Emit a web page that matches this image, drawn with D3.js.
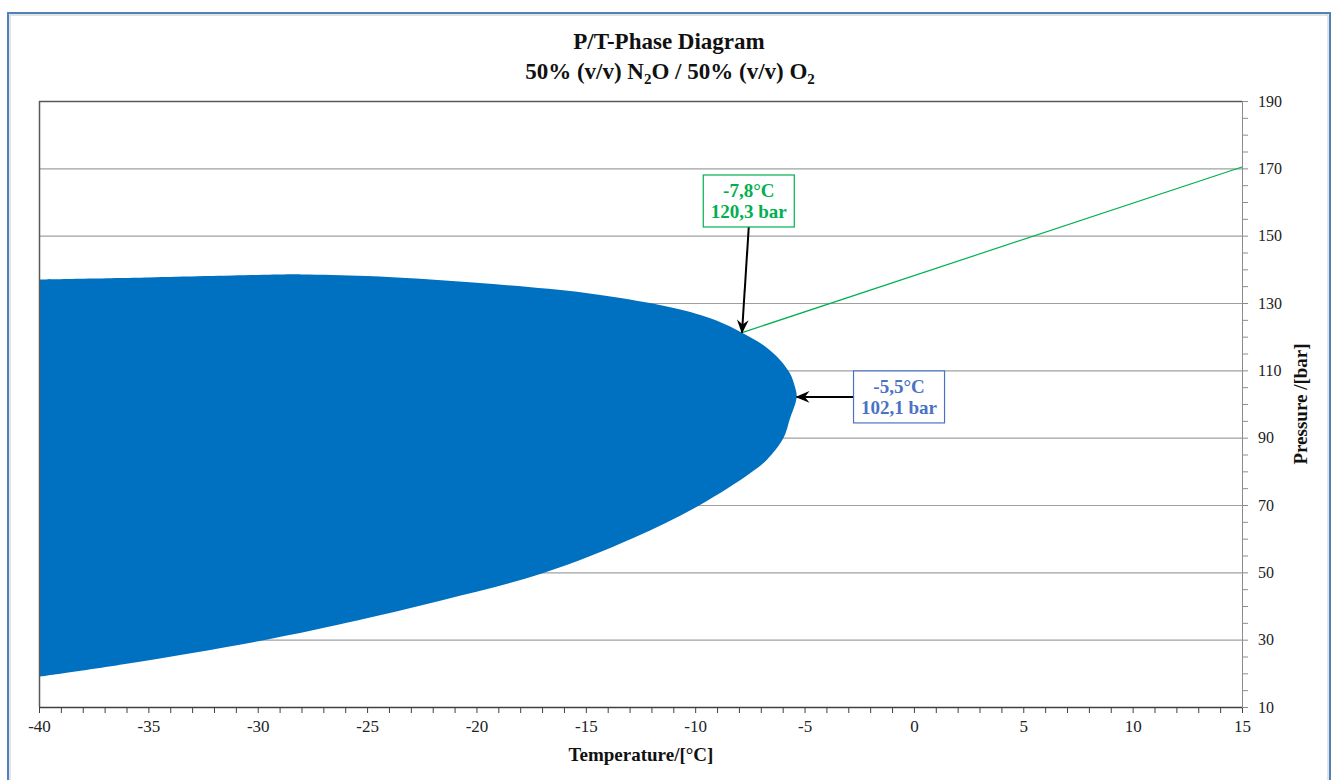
<!DOCTYPE html>
<html>
<head>
<meta charset="utf-8">
<script src="https://cdn.jsdelivr.net/npm/d3@7"></script>
<style>
	body { margin: 0; background: #fff; }
	svg { display: block; font-family: "Liberation Serif", "Times New Roman", serif; }
</style>
</head>
<body>
<figure id="phasediagram" style="margin:0"></figure>
<script>
// upper branch of the envelope, from the left edge to the cricondentherm
const upperTemp = [-40, -35, -30, -28, -25, -20, -15, -12, -10, -9, -7.86, -6.89, -6.12, -5.67, -5.44, -5.36];
const upperPress = [137.0, 137.6, 138.3, 138.5, 138.0, 136.0, 133.0, 129.9, 126.9, 124.7, 121.2, 117.5, 113.1, 109.1, 105.1, 102.1];
// lower branch, from the cricondentherm back to the left edge
const lowerTemp = [-5.36, -5.67, -5.97, -6.73, -7.49, -9.78, -12.83, -16.94, -21.52, -25.93, -29.44, -35.84, -40];
const lowerPress = [102.1, 95.6, 89.8, 83.4, 79.4, 70.0, 60.2, 49.8, 41.8, 35.0, 30.2, 23.0, 19.0];
// green line from the critical point
const lineTemp = [-7.86, 15];
const linePress = [121.2, 170.4];
// callouts: point, label centre (data units) and text
const callouts = [
	{ t: -7.86, p: 121.2, lt: -7.55, lp: 160.3, lines: ["-7,8°C", "120,3 bar"], color: "#00b050", side: "bottom" },
	{ t: -5.36, p: 102.1, lt: -0.68, lp: 102.1, lines: ["-5,5°C", "102,1 bar"], color: "#4a72c4", side: "left" }
];
const xTicks = d3.range(-40, 16, 1);
const yTicks = d3.range(10, 191, 5);
const gridValues = [30, 50, 70, 90, 110, 130, 150, 170];

class PhaseDiagram {

	constructor() {
		this.width = 1334;
		this.height = 780;
		this.left = 39;
		this.right = 1242;
		this.top = 101;
		this.bottom = 707;
	}

	init() {
		this.svg = d3.select("figure#phasediagram").append("svg")
			.attr("width", this.width)
			.attr("height", this.height);
		this.xScale = d3.scaleLinear().domain([-40, 15]).range([this.left, this.right]);
		this.yScale = d3.scaleLinear().domain([10, 190]).range([this.bottom, this.top]);
	}

	draw() {
		const svg = this.svg;
		const x = this.xScale, y = this.yScale;

		// outer frame
		svg.append("rect")
			.attr("x", 8).attr("y", 13)
			.attr("width", 1322).attr("height", 800)
			.attr("fill", "none").attr("stroke", "#4f81bd").attr("stroke-width", 2);
		svg.append("rect")
			.attr("x", 10).attr("y", 15)
			.attr("width", 1318).attr("height", 800)
			.attr("fill", "none").attr("stroke", "#c8c8c8").attr("stroke-width", 1);

		// title
		const title = svg.append("text")
			.attr("text-anchor", "middle")
			.attr("font-weight", "bold")
			.attr("font-size", 23)
			.attr("fill", "#111");
		title.append("tspan").attr("x", 669).attr("y", 49).text("P/T-Phase Diagram");
		const sub = title.append("tspan").attr("x", 670).attr("y", 79);
		sub.append("tspan").text("50% (v/v) N");
		sub.append("tspan").attr("font-size", 15).attr("dy", 5).text("2");
		sub.append("tspan").attr("dy", -5).text("O / 50% (v/v) O");
		sub.append("tspan").attr("font-size", 15).attr("dy", 5).text("2");

		// grid
		svg.append("g").selectAll("line")
			.data(gridValues)
			.enter().append("line")
			.attr("x1", this.left).attr("x2", this.right)
			.attr("y1", (d) => y(d) + 0.5).attr("y2", (d) => y(d) + 0.5)
			.attr("stroke", "#a0a0a0").attr("stroke-width", 1.2);

		svg.append("defs").append("clipPath").attr("id", "plotclip")
			.append("rect")
			.attr("x", this.left).attr("y", this.top)
			.attr("width", this.right - this.left).attr("height", this.bottom - this.top);

		// two-phase region
		const pts = upperTemp.map((t, i) => [t, upperPress[i]])
			.concat(lowerTemp.slice(1).map((t, i) => [t, lowerPress[i + 1]]));
		const area = d3.line()
			.x((d) => x(d[0]))
			.y((d) => y(d[1]))
			.curve(d3.curveCatmullRom.alpha(0.5));
		svg.append("path")
			.attr("clip-path", "url(#plotclip)")
			.attr("d", area(pts) + "Z")
			.attr("fill", "#0070c0");

		// green line
		svg.append("path")
			.attr("d", d3.line().x((d) => x(d[0])).y((d) => y(d[1]))(lineTemp.map((t, i) => [t, linePress[i]])))
			.attr("fill", "none")
			.attr("stroke", "#00b050")
			.attr("stroke-width", 1.2);

		// plot borders
		svg.append("line")
			.attr("x1", this.left + 0.5).attr("x2", this.left + 0.5)
			.attr("y1", this.top).attr("y2", this.bottom)
			.attr("stroke", "#595959").attr("stroke-width", 1.5);
		svg.append("line")
			.attr("x1", this.left).attr("x2", this.right)
			.attr("y1", this.top + 0.5).attr("y2", this.top + 0.5)
			.attr("stroke", "#595959").attr("stroke-width", 1.5);

		// x axis
		const xAxis = svg.append("g")
			.attr("transform", "translate(0," + this.bottom + ")")
			.call(d3.axisBottom(x)
				.tickValues(xTicks)
				.tickSize(6)
				.tickSizeOuter(0)
				.tickFormat((d) => (d % 5 === 0 ? d : "")));
		xAxis.select(".domain").attr("stroke", "#404040").attr("stroke-width", 1.5);
		xAxis.selectAll(".tick line").attr("stroke", "#404040");
		xAxis.selectAll(".tick text")
			.attr("font-family", "Liberation Serif")
			.attr("font-size", 17)
			.attr("fill", "#222")
			.attr("dy", "0.95em");

		// y axis on the right
		const yAxis = svg.append("g")
			.attr("transform", "translate(" + this.right + ",0)")
			.call(d3.axisRight(y)
				.tickValues(yTicks)
				.tickSize(6)
				.tickSizeOuter(0)
				.tickFormat((d) => ((d - 10) % 20 === 0 ? d : "")));
		yAxis.select(".domain").attr("stroke", "#8c8c8c");
		yAxis.selectAll(".tick line").attr("stroke", "#8c8c8c");
		yAxis.selectAll(".tick text")
			.attr("font-family", "Liberation Serif")
			.attr("font-size", 16)
			.attr("fill", "#222")
			.attr("x", 16);

		// axis titles
		svg.append("text")
			.attr("x", 641).attr("y", 761)
			.attr("text-anchor", "middle")
			.attr("font-weight", "bold")
			.attr("font-size", 19)
			.attr("fill", "#111")
			.text("Temperature/[°C]");
		svg.append("text")
			.attr("transform", "translate(1307,404) rotate(-90)")
			.attr("text-anchor", "middle")
			.attr("font-weight", "bold")
			.attr("font-size", 19)
			.attr("fill", "#111")
			.text("Pressure /[bar]");

		// arrow marker
		svg.select("defs").append("marker")
			.attr("id", "arrow")
			.attr("viewBox", "0 0 12 12")
			.attr("refX", 11).attr("refY", 6)
			.attr("markerWidth", 7).attr("markerHeight", 7)
			.attr("markerUnits", "strokeWidth")
			.attr("orient", "auto")
			.append("path")
			.attr("d", "M0,1 L12,6 L0,11 L4,6 Z")
			.attr("fill", "#000");

		// callouts
		const boxW = 91, boxH = 52;
		callouts.forEach((c) => {
			const cx = x(c.lt), cy = y(c.lp);
			const px = x(c.t), py = y(c.p);
			let sx, sy;
			if (c.side === "bottom") {
				sx = cx; sy = cy + boxH / 2;
			} else {
				sx = cx - boxW / 2; sy = cy;
			}
			svg.append("line")
				.attr("x1", sx).attr("y1", sy)
				.attr("x2", px).attr("y2", py)
				.attr("stroke", "#000").attr("stroke-width", 2)
				.attr("marker-end", "url(#arrow)");
			svg.append("rect")
				.attr("x", cx - boxW / 2).attr("y", cy - boxH / 2)
				.attr("width", boxW).attr("height", boxH)
				.attr("fill", "#fff")
				.attr("stroke", c.color).attr("stroke-width", 1.2);
			const txt = svg.append("text")
				.attr("text-anchor", "middle")
				.attr("font-weight", "bold")
				.attr("font-size", 19)
				.attr("fill", c.color);
			c.lines.forEach((l, i) => {
				txt.append("tspan").attr("x", cx).attr("y", cy - 4 + i * 21).text(l);
			});
		});
	}
}

const diagram = new PhaseDiagram();
diagram.init();
diagram.draw();
</script>
</body>
</html>
